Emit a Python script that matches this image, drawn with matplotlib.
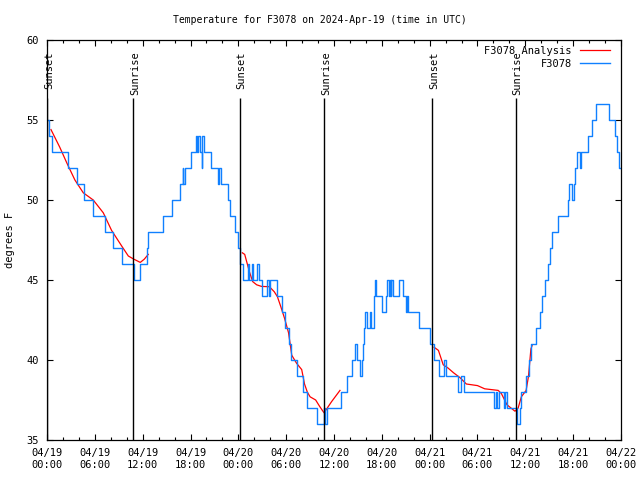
import matplotlib
matplotlib.use("Agg")
import matplotlib.pyplot as plt
from matplotlib.ticker import MultipleLocator

# hours since 2024-04-19 00:00 UTC
obs_hours = [0.0, 0.25, 0.6, 2.6, 3.8, 4.6, 5.8, 7.3, 8.3, 9.4, 10.9, 11.7, 12.6, 12.7,
             14.5, 15.7, 16.7, 17.0, 17.1, 17.3, 18.0, 18.7, 18.8, 19.0, 19.2, 19.4,
             19.5, 19.7, 20.6, 21.5, 21.6, 21.8, 22.7, 23.0, 23.6, 23.9, 24.2, 24.6,
             25.2, 25.4, 25.7, 25.9, 26.3, 26.6, 27.0, 27.6, 27.8, 28.0, 28.9, 29.5,
             29.9, 30.3, 30.6, 31.3, 32.1, 32.6, 33.9, 34.8, 34.9, 35.1, 36.9, 37.6,
             38.3, 38.6, 38.85, 39.2, 39.55, 39.65, 39.8, 39.9, 40.2, 40.5, 40.7, 41.0,
             41.1, 41.3, 42.0, 42.5, 42.7, 42.85, 43.0, 43.1, 43.2, 43.4, 44.2, 44.6,
             45.0, 45.1, 45.25, 46.6, 48.0, 48.6, 49.2, 49.85, 50.0, 51.6, 51.9, 52.3,
             56.1, 56.3, 56.5, 56.7, 57.3, 57.5, 57.7, 58.9, 59.3, 59.5, 60.1, 60.4,
             60.7, 61.3, 61.9, 62.1, 62.5, 62.9, 63.1, 63.4, 64.1, 65.3, 65.5, 65.9,
             66.1, 66.2, 66.5, 66.9, 67.0, 67.8, 68.4, 68.9, 70.5, 71.2, 71.5, 71.8, 72.0]
obs_temps = [55, 54, 53, 52, 51, 50, 49, 48, 47, 46, 45, 46, 47, 48,
             49, 50, 51, 52, 51, 52, 53, 54, 53, 54, 53, 52,
             54, 53, 52, 51, 52, 51, 50, 49, 48, 47, 46, 45,
             46, 45, 46, 45, 46, 45, 44, 45, 44, 45, 44, 43,
             42, 41, 40, 39, 38, 37, 36, 37, 36, 37, 38, 39,
             40, 41, 40, 39, 40, 41, 42, 43, 42, 43, 42, 44,
             45, 44, 43, 44, 45, 44, 45, 44, 45, 44, 45, 44,
             43, 44, 43, 42, 41, 40, 39, 40, 39, 38, 39, 38,
             37, 38, 37, 38, 37, 38, 37, 36, 37, 38, 39, 40,
             41, 42, 43, 44, 45, 46, 47, 48, 49, 50, 51, 50,
             51, 52, 53, 52, 53, 54, 55, 56, 55, 54, 53, 52, 52]

ana1_hours = [0.5, 1.0, 1.6, 2.5, 3.5, 4.55, 5.8, 7.06, 8.1, 9.4, 10.2, 10.9, 11.7, 12.2, 12.7]
ana1_temps = [54.4, 53.9, 53.3, 52.3, 51.25, 50.45, 50.0, 49.2, 48.1, 47.1, 46.5, 46.3, 46.1, 46.3, 46.6]
ana2_hours = [24.5, 24.8, 25.4, 25.8, 26.3, 26.9, 27.9, 28.5, 28.9, 29.35, 29.8, 30.3, 30.7,
              31.3, 31.95, 32.3, 32.65, 33.0, 33.7, 34.2, 34.75, 35.7, 36.3, 36.75]
ana2_temps = [46.7, 46.6, 45.5, 44.9, 44.7, 44.6, 44.58, 44.27, 43.96, 43.3, 42.6, 41.7, 40.3,
              39.8, 39.4, 38.5, 38.0, 37.7, 37.5, 37.1, 36.7, 37.4, 37.8, 38.1]
ana3_hours = [48.55, 49.1, 49.7, 50.3, 51.0, 51.8, 52.6, 54.0, 54.9, 56.6, 57.0, 57.7, 58.7,
              59.1, 59.5, 60.1, 60.4, 60.7, 60.85]
ana3_temps = [40.8, 40.6, 39.7, 39.5, 39.2, 38.9, 38.5, 38.4, 38.2, 38.1, 37.9, 37.2, 36.8,
              37.0, 37.7, 38.1, 39.0, 40.7, 40.9]

sun_hours = [0.05, 10.83, 24.2, 34.78, 48.33, 58.8]
sun_labels = ["Sunset", "Sunrise", "Sunset", "Sunrise", "Sunset", "Sunrise"]

tick_hours = list(range(0, 73, 6))
tick_labels = ["04/19\n00:00", "04/19\n06:00", "04/19\n12:00", "04/19\n18:00",
               "04/20\n00:00", "04/20\n06:00", "04/20\n12:00", "04/20\n18:00",
               "04/21\n00:00", "04/21\n06:00", "04/21\n12:00", "04/21\n18:00",
               "04/22\n00:00"]

RED = "#ff0000"
BLUE = "#1080ff"

plt.rcParams["font.family"] = "DejaVu Sans Mono"
plt.rcParams["font.size"] = 7

fig = plt.figure(figsize=(6.4, 4.8), dpi=100)
ax = fig.add_axes([47 / 640, 40 / 480, 574 / 640, 400 / 480])

ax.plot(ana1_hours, ana1_temps, color=RED, lw=0.9, label="F3078 Analysis")
ax.plot(ana2_hours, ana2_temps, color=RED, lw=0.9)
ax.plot(ana3_hours, ana3_temps, color=RED, lw=0.9)
ax.plot(obs_hours, obs_temps, color=BLUE, lw=1.0, drawstyle="steps-post", label="F3078")

for h, lab in zip(sun_hours, sun_labels):
    ax.vlines(h, 35, 56.4, color="black", lw=1.0)
    ax.text(h + 0.2, 59.3, lab, rotation=90, ha="center", va="top", fontsize=7.5)

ax.set_xlim(0, 72)
ax.set_ylim(35, 60)
ax.set_xticks(tick_hours)
ax.set_xticklabels(tick_labels)
ax.xaxis.set_minor_locator(MultipleLocator(2))
ax.set_yticks([35, 40, 45, 50, 55, 60])
ax.tick_params(which="both", direction="in", top=True, right=True, width=0.8)
ax.tick_params(which="major", length=4.5, pad=6, labelsize=7.5)
ax.tick_params(which="minor", length=2.5)
for s in ax.spines.values():
    s.set_linewidth(0.9)

ax.legend(loc="upper right", bbox_to_anchor=(1 - 11 / 574, 1 - 6 / 400), frameon=False,
          markerfirst=False, borderpad=0, borderaxespad=0, handlelength=2.9,
          handletextpad=0.75, labelspacing=0.3, fontsize=7.5)

fig.text(0.5, 1 - 20 / 480, "Temperature for F3078 on 2024-Apr-19 (time in UTC)",
         ha="center", va="center", fontsize=7)
fig.text(10 / 640, 0.5, "degrees F", rotation=90, ha="center", va="center", fontsize=7.5)

fig.savefig("out.png", dpi=100)
